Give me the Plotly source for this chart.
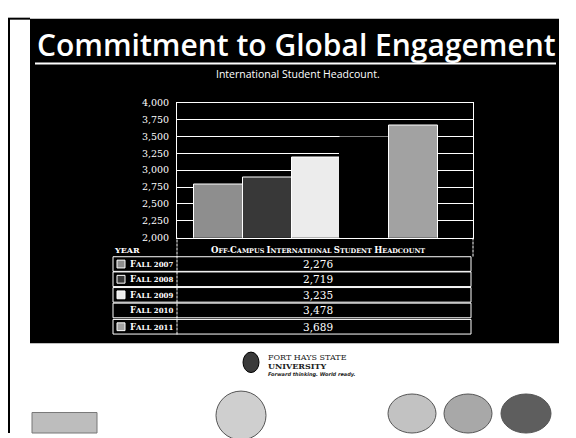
import plotly.graph_objects as go

# ---------------- data ----------------
years = ["Fall 2007", "Fall 2008", "Fall 2009", "Fall 2010", "Fall 2011"]
bar_values = [2790, 2890, 3180, 3478, 3665]
table_values = ["2,276", "2,719", "3,235", "3,478", "3,689"]
bar_colors = ["#8e8e8e", "#383838", "#ececec", "#000000", "#a2a2a2"]
bar_edges = ["#ffffff", "#ffffff", "#ffffff", "#000000", "#ffffff"]
y_ticks = [2000, 2250, 2500, 2750, 3000, 3250, 3500, 3750, 4000]

title = "Commitment to Global Engagement"
subtitle = "International Student Headcount."
table_header = "Off-Campus International Student Headcount"
year_header = "YEAR"

W, H = 576, 438


def X(p):
    return p / W


def Y(p):
    return 1 - p / H


def smallcaps(s, big, small):
    out = []
    for ch in s:
        if ch.isupper():
            out.append(f'<span style="font-size:{big}px">{ch}</span>')
        elif ch == " ":
            out.append(" ")
        else:
            out.append(f'<span style="font-size:{small}px">{ch.upper()}</span>')
    return "".join(out)


fig = go.Figure()
fig.add_trace(go.Bar(
    x=years, y=bar_values,
    marker=dict(color=bar_colors, line=dict(color=bar_edges, width=1)),
    hoverinfo="skip", showlegend=False,
))

shapes = []
annotations = []

# slide background
shapes.append(dict(type="rect", xref="paper", yref="paper", x0=X(30), x1=X(559), y0=Y(346), y1=Y(13),
                   fillcolor="black", line=dict(width=0), layer="below"))
shapes.append(dict(type="line", xref="paper", yref="paper", x0=X(9), x1=X(9), y0=Y(438), y1=Y(13),
                   line=dict(color="black", width=2), layer="below"))
shapes.append(dict(type="line", xref="paper", yref="paper", x0=X(8), x1=X(30), y0=Y(13), y1=Y(13),
                   line=dict(color="black", width=2), layer="below"))

# title
annotations.append(dict(text=title, xref="paper", yref="paper", x=X(296), y=Y(40), showarrow=False,
                        xanchor="center", yanchor="middle",
                        font=dict(family="Open Sans", size=30, color="white", weight=600)))
shapes.append(dict(type="line", xref="paper", yref="paper", x0=X(35), x1=X(556), y0=Y(59), y1=Y(59),
                   line=dict(color="white", width=2)))
annotations.append(dict(text=subtitle, xref="paper", yref="paper", x=X(298), y=Y(70), showarrow=False,
                        xanchor="center", yanchor="middle",
                        font=dict(family="Open Sans", size=10.5, color="white")))

# table
rows_top = [256.7, 272.3, 288.3, 304.3, 321.0]
row_h = 16.0
annotations.append(dict(text=year_header, xref="paper", yref="paper", x=X(112), y=Y(250), showarrow=False,
                        xanchor="left", yanchor="middle",
                        font=dict(family="DejaVu Serif", size=8, color="white", weight="bold")))
annotations.append(dict(text=smallcaps(table_header, 8.5, 6.5), xref="paper", yref="paper", x=X(318), y=Y(250),
                        showarrow=False, xanchor="center", yanchor="middle",
                        font=dict(family="DejaVu Serif", size=6.5, color="white", weight="bold")))
shapes.append(dict(type="line", xref="paper", yref="paper", x0=X(177), x1=X(177), y0=Y(337), y1=Y(237.7),
                   line=dict(color="white", width=1, dash="3px,1px")))
shapes.append(dict(type="line", xref="paper", yref="paper", x0=X(473), x1=X(473), y0=Y(257), y1=Y(237.7),
                   line=dict(color="white", width=1, dash="3px,1px")))
for i, yr in enumerate(years):
    t = rows_top[i]
    shapes.append(dict(type="rect", xref="paper", yref="paper", x0=X(113), x1=X(471),
                       y0=Y(t + row_h - 0.5), y1=Y(t + 0.5), line=dict(color="white", width=1)))
    cy = t + row_h / 2
    shapes.append(dict(type="rect", xref="paper", yref="paper", x0=X(117), x1=X(125),
                       y0=Y(cy + 4), y1=Y(cy - 4), fillcolor=bar_colors[i],
                       line=dict(color=bar_edges[i], width=1)))
    annotations.append(dict(text=smallcaps(yr, 8.5, 7), xref="paper", yref="paper", x=X(128), y=Y(cy),
                            showarrow=False, xanchor="left", yanchor="middle",
                            font=dict(family="DejaVu Serif", size=7, color="white", weight="bold")))
    annotations.append(dict(text=table_values[i], xref="paper", yref="paper", x=X(318), y=Y(cy),
                            showarrow=False, xanchor="center", yanchor="middle",
                            font=dict(family="DejaVu Serif", size=10.5, color="white")))

# bottom logo area
shapes.append(dict(type="circle", xref="paper", yref="paper", x0=X(243), x1=X(259), y0=Y(376), y1=Y(355),
                   fillcolor="#3a3a3a", line=dict(color="black", width=1)))
annotations.append(dict(text="FORT HAYS STATE", xref="paper", yref="paper", x=X(266), y=Y(361),
                        showarrow=False, xanchor="left", yanchor="middle",
                        font=dict(family="DejaVu Serif", size=8, color="#222")))
annotations.append(dict(text="UNIVERSITY", xref="paper", yref="paper", x=X(266), y=Y(369),
                        showarrow=False, xanchor="left", yanchor="middle",
                        font=dict(family="DejaVu Serif", size=8, color="#222", weight="bold")))
annotations.append(dict(text="<i>Forward thinking. World ready.</i>", xref="paper", yref="paper", x=X(266), y=Y(378),
                        showarrow=False, xanchor="left", yanchor="middle",
                        font=dict(family="DejaVu Sans", size=5, color="#222", weight="bold")))

circles = [(216, 266, 395, 445, "#cfcfcf"), (388, 436, 398, 438, "#c2c2c2"),
           (444, 492, 398, 438, "#a8a8a8"), (501, 551, 398, 438, "#5e5e5e")]
for x0, x1, y0, y1, c in circles:
    shapes.append(dict(type="circle", xref="paper", yref="paper", x0=X(x0), x1=X(x1), y0=Y(y1), y1=Y(y0),
                       fillcolor=c, line=dict(color="#555", width=1)))
shapes.append(dict(type="rect", xref="paper", yref="paper", x0=X(32), x1=X(97), y0=Y(438), y1=Y(417),
                   fillcolor="#bdbdbd", line=dict(color="#777", width=1)))

fig.update_layout(
    width=W, height=H,
    margin=dict(l=0, r=0, t=0, b=0),
    paper_bgcolor="white",
    plot_bgcolor="rgba(0,0,0,0)",
    bargap=0,
    shapes=shapes,
    annotations=annotations,
    xaxis=dict(domain=[X(177), X(473)], range=[-0.847, 5.214], showticklabels=False, ticks="",
               showgrid=False, showline=True, mirror=True, linecolor="white", linewidth=1, zeroline=False),
    yaxis=dict(domain=[Y(237.7), Y(99)], range=[2000, 4000], tickvals=y_ticks, tickformat=",d",
               showgrid=True, gridcolor="white", gridwidth=1, showline=True, mirror=True,
               linecolor="white", linewidth=1, zeroline=False, ticks="", ticklabelstandoff=5,
               tickfont=dict(family="DejaVu Serif", size=9.5, color="white")),
)

fig.write_html("out.html", config={"displayModeBar": False},
               post_script="document.body.style.margin='0';")
